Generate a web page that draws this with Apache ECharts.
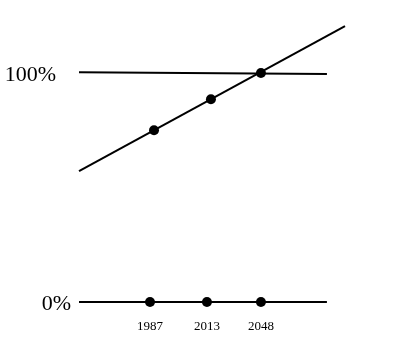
<!DOCTYPE html>
<html>
<head>
<meta charset="utf-8">
<script src="https://cdn.jsdelivr.net/npm/echarts@6/dist/echarts.min.js"></script>
<style>html,body{margin:0;padding:0;background:#fff;}#c{width:400px;height:363px;}</style>
</head>
<body>
<div id="c"></div>
<script>
// Values (x in arbitrary position units 0..100, y in percent)
var years = ['1987', '2013', '2048'];
var bottomX = [26.7, 48.1, 68.4];
var upperX = [28.2, 49.6, 68.4];
var upperY = [75.0, 88.6, 100.0];
var trendLine = [[0, 57.2], [100, 120.5]];
var hundredLine = [[0, 100.4], [93.2, 99.6]];
var zeroLine = [[0, 0], [93.2, 0]];
var levelLabels = ['100%', '0%'];
var levelValues = [100, 0];

var serif = '"Liberation Serif", "DejaVu Serif", serif';
var chart = echarts.init(document.getElementById('c'), null, {renderer: 'canvas'});
chart.setOption({
  animation: false,
  backgroundColor: '#fff',
  grid: {left: 79, right: 55, top: 25, bottom: 61},
  xAxis: {type: 'value', min: 0, max: 100, show: false},
  yAxis: {type: 'value', min: 0, max: 121, show: false},
  series: [
    {type: 'line', data: trendLine, showSymbol: false, lineStyle: {color: '#000', width: 2}},
    {type: 'line', data: hundredLine, showSymbol: false, lineStyle: {color: '#000', width: 2}},
    {type: 'line', data: zeroLine, showSymbol: false, lineStyle: {color: '#000', width: 2}},
    {type: 'scatter', symbolSize: 10, itemStyle: {color: '#000', opacity: 1},
      data: upperX.map(function (x, i) { return [x, upperY[i]]; })},
    {type: 'scatter', symbolSize: 10, itemStyle: {color: '#000', opacity: 1},
      data: bottomX.map(function (x, i) { return {value: [x, 0], name: years[i]}; }),
      label: {show: true, position: 'bottom', distance: 13, formatter: '{b}',
        color: '#000', fontFamily: serif, fontSize: 13}},
    {type: 'scatter', symbolSize: 0, itemStyle: {opacity: 1},
      data: levelLabels.map(function (t, i) {
        return {value: [0, levelValues[i]], name: t,
          label: {distance: i === 0 ? 23 : 8}};
      }),
      label: {show: true, position: 'left', formatter: '{b}', offset: [0, 2],
        color: '#000', fontFamily: serif, fontSize: 22}}
  ]
});
</script>
</body>
</html>
